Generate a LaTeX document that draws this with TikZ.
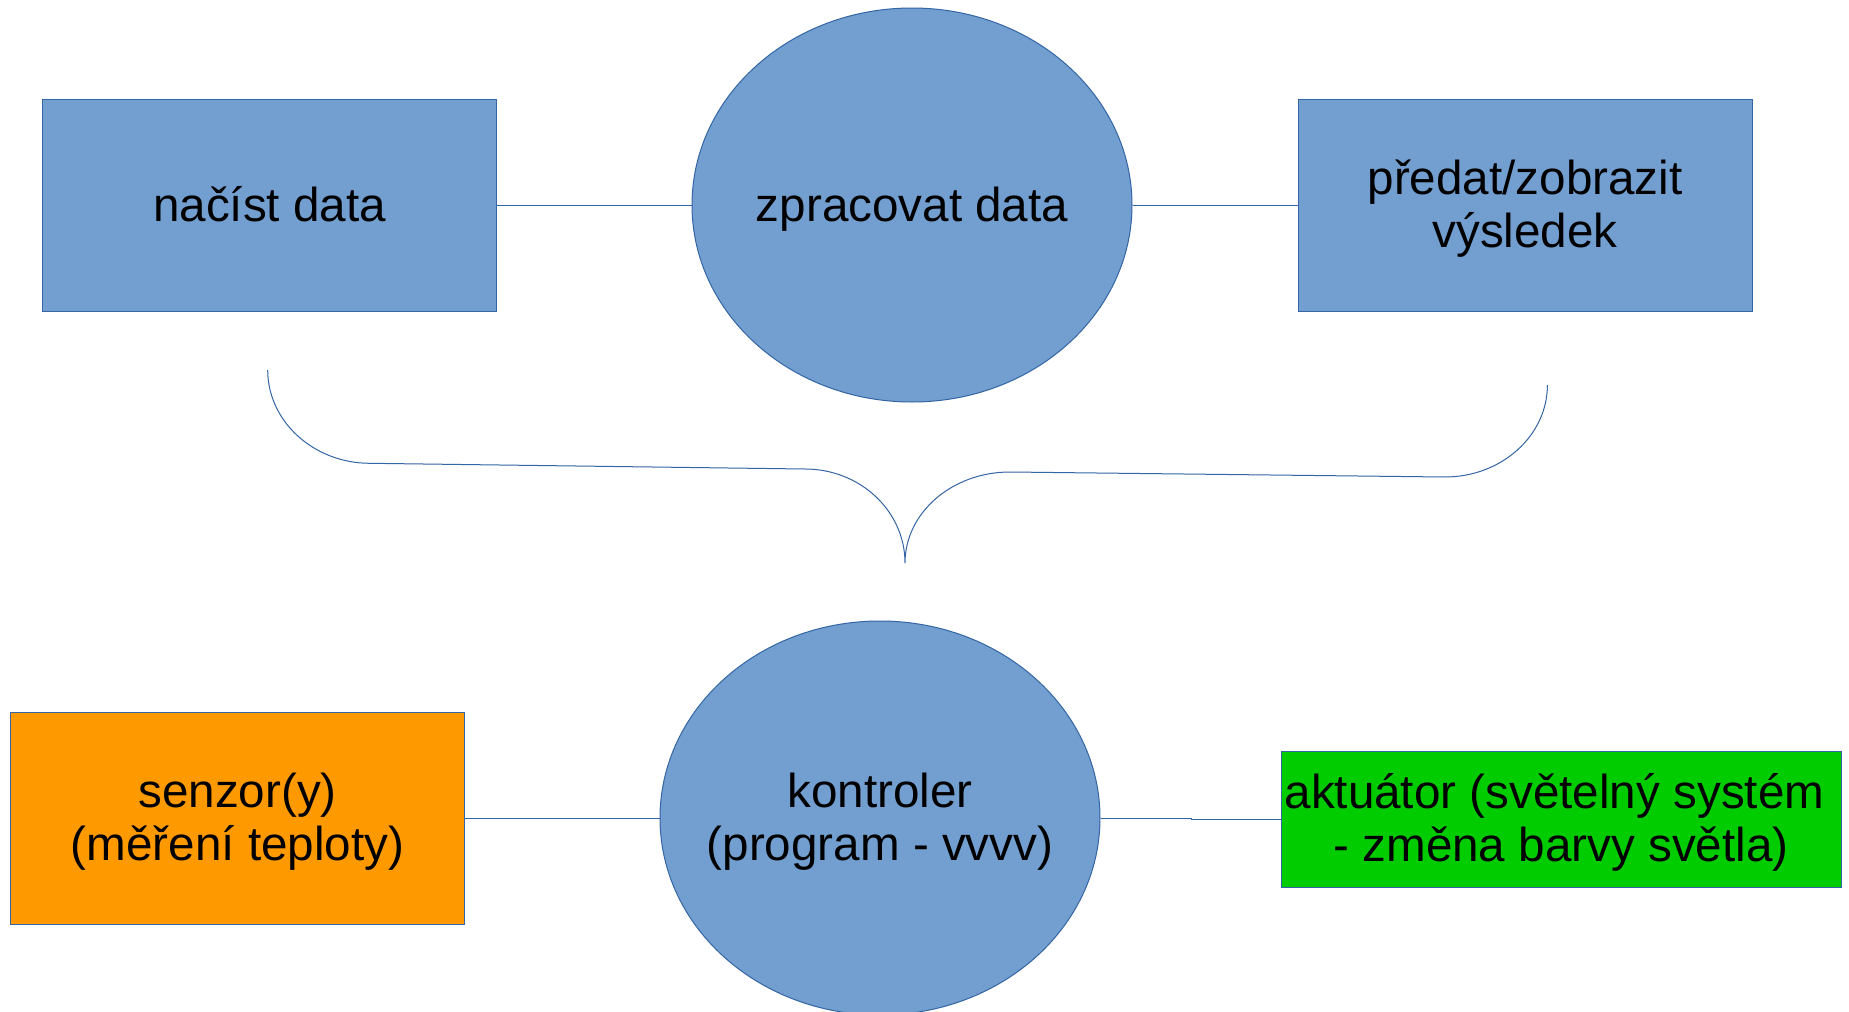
\documentclass[tikz,border=0pt]{standalone}
\usepackage{fontspec}
\setmainfont{Liberation Sans}
\usetikzlibrary{shapes,positioning}
\definecolor{lobody}{HTML}{729FCF}
\definecolor{loedge}{HTML}{3465A4}
\definecolor{loorange}{HTML}{FF9900}
\definecolor{logreen}{HTML}{00CC00}
\newcommand{\lostrut}{\rule[-0.21em]{0pt}{1.1em}}
\tikzset{
    raw flow entry/.style={draw=loedge, line width=0.5pt, inner sep=0pt, align=center, text=black, font=\fontsize{23.8}{26.5}\selectfont},
    flow box/.style={raw flow entry, rectangle, fill=lobody, minimum width=227pt, minimum height=106pt},
    flow box orange/.style={flow box, fill=loorange},
    flow box green/.style={raw flow entry, rectangle, fill=logreen, minimum width=280pt, minimum height=68pt},
    flow ellipse/.style={raw flow entry, ellipse, inner xsep=-12pt, fill=lobody, minimum width=220pt, minimum height=197pt},
    link/.style={draw=loedge, line width=0.5pt}
}

\begin{document}
\begin{tikzpicture}[x=0.5pt, y=-0.5pt]
	\useasboundingbox[fill=white] (0,0) rectangle (1849,1012);
	% top row
	\node[flow box] (nacist) at (269.5,205) {\lostrut načíst data};
	\node[flow ellipse] (zpracovat) at (912,205) {\lostrut zpracovat data};
	\node[flow box] (predat) at (1525,205) {\lostrut předat/zobrazit\\\lostrut výsledek};
	\draw[link] (nacist.east) -- (zpracovat.west);
	\draw[link] (zpracovat.east) -- (predat.west);
	% brace
	\coordinate (brace left) at (267.7,370);
	\coordinate (brace tip) at (905,563);
	\coordinate (brace right) at (1547.4,385);
	\draw[link] (brace left) .. controls (267.7,421.4) and (313.7,463.3) .. (370,463.3)
		-- (805,469) .. controls (860.2,469) and (905,511.1) .. (brace tip)
		.. controls (905,512.8) and (952,472) .. (1010,472)
		-- (1445,477) .. controls (1501.3,477) and (1547.4,435.8) .. (brace right);
	% bottom row
	\node[flow box orange] (senzor) at (237.6,818) {\lostrut senzor(y)\\\lostrut (měření teploty)};
	\node[flow ellipse] (kontroler) at (880,818) {\lostrut kontroler\\\lostrut (program - vvvv)};
	\node[flow box green] (aktuator) at (1561,819) {\lostrut aktuátor (světelný systém\hspace*{0.278em}\\\lostrut - změna barvy světla)};
	\coordinate (kink) at (1191,818);
	\draw[link] (senzor.east) -- (kontroler.west);
	\draw[link] (kontroler.east) -- (kink) |- (aktuator.west);
\end{tikzpicture}
\end{document}
